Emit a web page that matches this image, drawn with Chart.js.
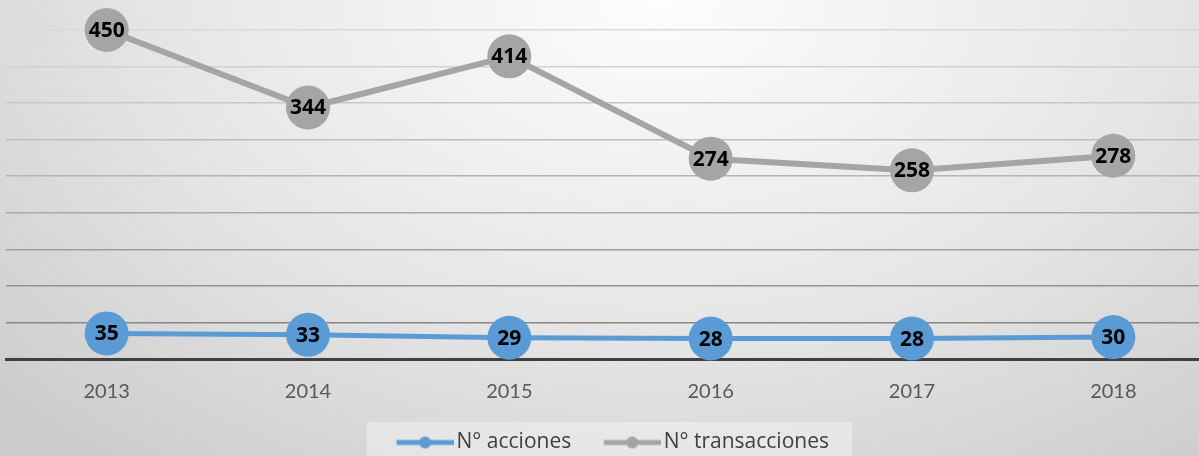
<!DOCTYPE html>
<html>
<head>
<meta charset="utf-8">
<script src="https://cdn.jsdelivr.net/npm/chart.js@4.4.1/dist/chart.umd.min.js"></script>
<style>
  html, body {
    margin: 0;
    padding: 0;
    width: 1199px;
    height: 456px;
    overflow: hidden;
    background: radial-gradient(ellipse 75% 130% at 55% 0%, #fdfdfd 0%, #e6e6e6 55%, #cccccc 100%);
  }
  #wrap { position: absolute; left: 0; top: 0; }
</style>
</head>
<body>
<div id="wrap"><canvas id="chart" width="1214" height="463"></canvas></div>
<script>
// datos del gráfico
var years = ['2013', '2014', '2015', '2016', '2017', '2018'];
var acciones = [35, 33, 29, 28, 28, 30];
var transacciones = [450, 344, 414, 274, 258, 278];
var seriesNames = ['N° acciones', 'N° transacciones'];
var yTicks = [0, 50, 100, 150, 200, 250, 300, 350, 400, 450];

var FONT = 'Lato, "Open Sans", sans-serif';
var LABEL_FONT = '"Open Sans", sans-serif';
var BLUE = '#5b9bd5';
var GRAY = '#a5a5a5';

// colores de la cuadrícula (más oscuros abajo)
var gridColors = ['#404040', '#878787', '#939393', '#9e9e9e', '#a9a9a9', '#b4b4b4', '#bebebe', '#c8c8c8', '#d1d1d1', '#d9d9d9'];

// símbolo de leyenda: línea con círculo (con margen transparente a la izquierda)
function legendSymbol(color) {
    var c = document.createElement('canvas');
    c.width = 70;
    c.height = 14;
    var g = c.getContext('2d');
    g.strokeStyle = color;
    g.lineWidth = 5;
    g.beginPath();
    g.moveTo(13, 7);
    g.lineTo(70, 7);
    g.stroke();
    g.fillStyle = color;
    g.beginPath();
    g.arc(41.5, 7, 6, 0, Math.PI * 2);
    g.fill();
    return c;
}

// fondo de la leyenda
var legendBg = {
    id: 'legendBg',
    beforeDraw: function (chart) {
        var lg = chart.legend;
        if (!lg || !lg.legendHitBoxes.length) return;
        var boxes = lg.legendHitBoxes;
        var first = boxes[0], last = boxes[boxes.length - 1];
        var left = first.left - 24;
        var right = last.left + last.width + 23;
        var ctx = chart.ctx;
        ctx.save();
        ctx.fillStyle = 'rgba(255,255,255,0.35)';
        ctx.fillRect(left, 422, right - left, 50);
        ctx.restore();
    }
};

// etiquetas de datos en negrita
var dataLabels = {
    id: 'dataLabels',
    afterDatasetsDraw: function (chart) {
        var ctx = chart.ctx;
        ctx.save();
        ctx.font = 'bold 21px ' + LABEL_FONT;
        ctx.fillStyle = '#000000';
        ctx.textAlign = 'center';
        ctx.textBaseline = 'middle';
        chart.data.datasets.forEach(function (ds, i) {
            chart.getDatasetMeta(i).data.forEach(function (pt, j) {
                ctx.fillText(String(ds.data[j]), pt.x, pt.y + 1);
            });
        });
        ctx.restore();
    }
};

var ctx = document.getElementById('chart').getContext('2d');
var myChart = new Chart(ctx, {
    type: 'line',
    data: {
        labels: years,
        datasets: [{
            label: seriesNames[0],
            data: acciones,
            borderColor: BLUE,
            backgroundColor: BLUE,
            borderWidth: 5,
            pointRadius: 22,
            pointHoverRadius: 22,
            pointBorderWidth: 0,
            clip: false,
            order: 0
        }, {
            label: seriesNames[1],
            data: transacciones,
            borderColor: GRAY,
            backgroundColor: GRAY,
            borderWidth: 6,
            pointRadius: 22,
            pointHoverRadius: 22,
            pointBorderWidth: 0,
            clip: false,
            order: 1
        }]
    },
    options: {
        responsive: false,
        animation: false,
        layout: { autoPadding: false, padding: { left: 6, right: 0, top: 30, bottom: 0 } },
        plugins: {
            tooltip: { enabled: false },
            legend: {
                position: 'bottom',
                labels: {
                    usePointStyle: true,
                    pointStyleWidth: 55,
                    boxHeight: 14,
                    padding: 27,
                    color: '#404040',
                    font: { family: LABEL_FONT, size: 21 },
                    generateLabels: function (chart) {
                        return chart.data.datasets.map(function (ds, i) {
                            return {
                                text: ds.label,
                                pointStyle: legendSymbol(ds.borderColor),
                                fillStyle: ds.borderColor,
                                strokeStyle: ds.borderColor,
                                lineWidth: 0,
                                fontColor: '#404040',
                                datasetIndex: i
                            };
                        });
                    }
                }
            }
        },
        scales: {
            x: {
                offset: true,
                grid: { display: false, offset: true },
                border: { display: true, color: '#404040', width: 3 },
                ticks: { color: '#595959', padding: 13, font: { family: FONT, size: 20 } },
                afterFit: function (scale) { scale.height = 46; }
            },
            y: {
                min: 0,
                max: 450,
                afterBuildTicks: function (scale) {
                    scale.ticks = yTicks.map(function (v) { return { value: v }; });
                },
                ticks: { display: false },
                border: { display: false },
                grid: {
                    drawTicks: false,
                    lineWidth: 1.5,
                    color: function (c) { return gridColors[c.index] || '#c0c0c0'; }
                },
                afterFit: function (scale) { scale.width = 0; }
            }
        }
    },
    plugins: [legendBg, dataLabels]
});
</script>
</body>
</html>
